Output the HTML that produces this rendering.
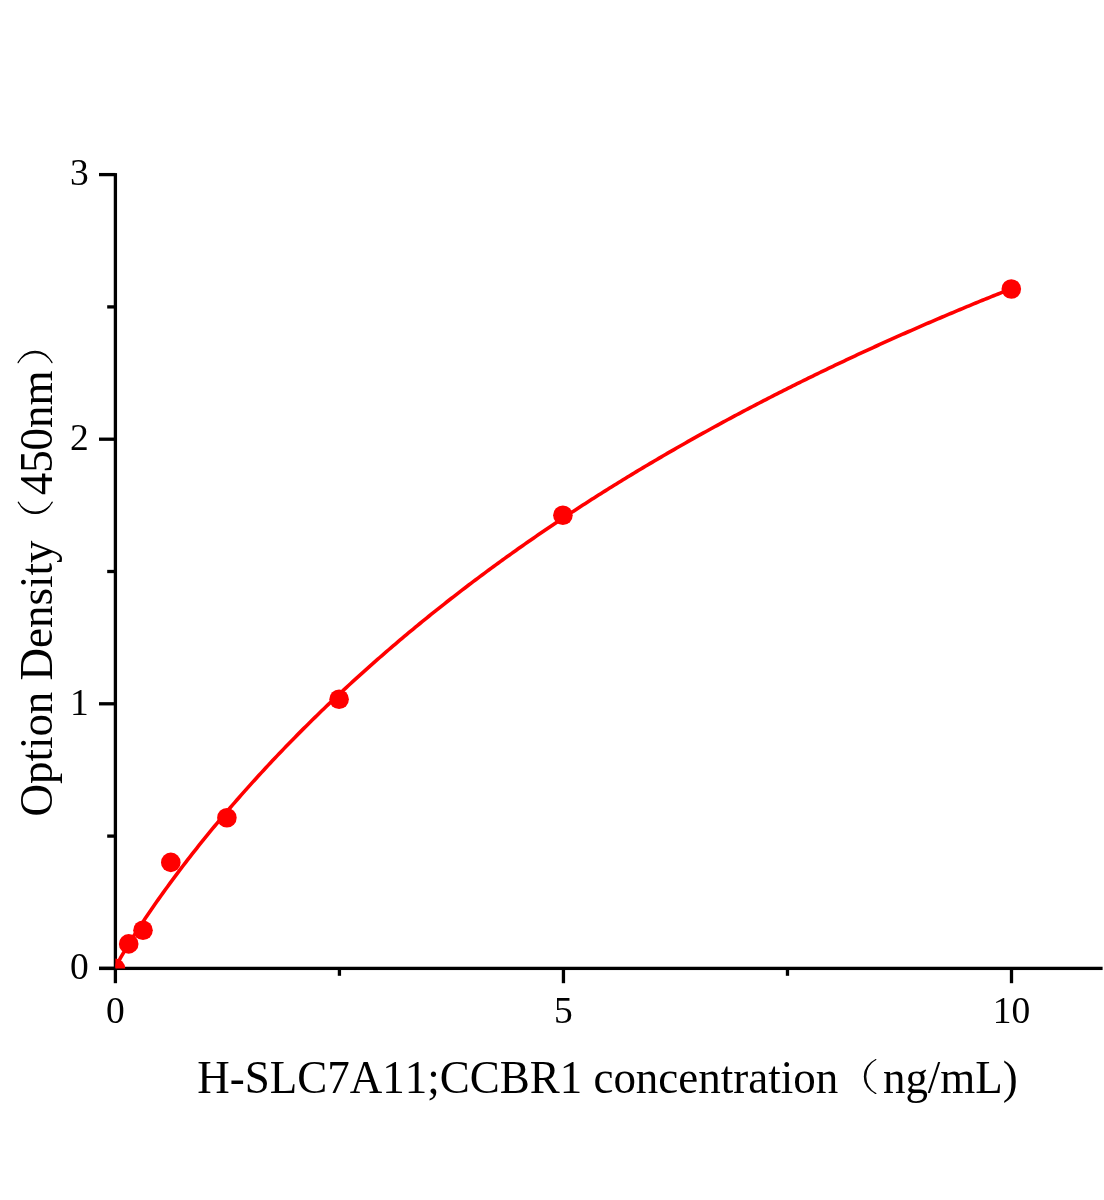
<!DOCTYPE html><html><head><meta charset="utf-8"><style>html,body{margin:0;padding:0;background:#fff;overflow:hidden}svg{display:block;will-change:transform}</style></head><body><svg width="1104" height="1200" viewBox="0 0 1104 1200">
<rect width="1104" height="1200" fill="#fff"/>
<defs><clipPath id="pa"><rect x="115.4" y="0" width="988.6" height="968.4"/></clipPath></defs>
<g fill="#000">
<rect x="113.75" y="173.1" width="3.3" height="810.10"/>
<rect x="99" y="966.75" width="1003.60" height="3.3"/>
<rect x="99" y="966.75" width="16.40" height="3.3"/>
<rect x="99" y="702.15" width="16.40" height="3.3"/>
<rect x="99" y="437.55" width="16.40" height="3.3"/>
<rect x="99" y="172.95" width="16.40" height="3.3"/>
<rect x="107.2" y="834.45" width="8.20" height="3.3"/>
<rect x="107.2" y="569.85" width="8.20" height="3.3"/>
<rect x="107.2" y="305.25" width="8.20" height="3.3"/>
<rect x="561.80" y="968.4" width="3.3" height="14.80"/>
<rect x="1009.85" y="968.4" width="3.3" height="14.80"/>
<rect x="337.78" y="968.4" width="3.3" height="7.40"/>
<rect x="785.83" y="968.4" width="3.3" height="7.40"/>
</g>
<g clip-path="url(#pa)">
<path d="M115.40,967.75 L116.30,965.80 L117.19,964.04 L118.09,962.35 L118.98,960.70 L119.88,959.08 L120.78,957.48 L123.01,953.60 L125.24,949.82 L127.47,946.11 L129.71,942.47 L131.94,938.89 L134.17,935.36 L136.40,931.87 L138.64,928.42 L140.87,925.01 L143.10,921.64 L145.33,918.30 L147.57,914.99 L149.80,911.72 L152.03,908.47 L154.26,905.25 L156.49,902.06 L158.73,898.89 L160.96,895.75 L163.19,892.63 L165.42,889.53 L167.66,886.46 L169.89,883.40 L172.12,880.37 L174.35,877.36 L176.59,874.37 L178.82,871.40 L181.05,868.45 L183.28,865.52 L185.52,862.61 L187.75,859.71 L189.98,856.83 L192.21,853.97 L194.45,851.13 L196.68,848.30 L198.91,845.49 L201.14,842.70 L203.38,839.92 L205.61,837.16 L207.84,834.41 L210.07,831.68 L212.30,828.97 L214.54,826.26 L216.77,823.58 L219.00,820.90 L221.23,818.24 L223.47,815.60 L225.70,812.97 L227.93,810.35 L230.16,807.75 L232.40,805.15 L234.63,802.58 L236.86,800.01 L239.09,797.46 L241.33,794.92 L243.56,792.39 L245.79,789.87 L248.02,787.37 L250.26,784.88 L252.49,782.40 L254.72,779.93 L256.95,777.48 L259.18,775.03 L261.42,772.60 L263.65,770.18 L265.88,767.77 L268.11,765.37 L270.35,762.98 L272.58,760.60 L274.81,758.23 L277.04,755.88 L279.28,753.53 L281.51,751.20 L283.74,748.87 L285.97,746.56 L288.21,744.25 L290.44,741.96 L292.67,739.67 L294.90,737.40 L297.14,735.13 L299.37,732.87 L301.60,730.63 L303.83,728.39 L306.06,726.16 L308.30,723.95 L310.53,721.74 L312.76,719.54 L314.99,717.35 L317.23,715.17 L319.46,712.99 L321.69,710.83 L323.92,708.68 L326.16,706.53 L328.39,704.39 L330.62,702.27 L332.85,700.15 L335.09,698.03 L337.32,695.93 L339.55,693.84 L341.78,691.75 L344.02,689.67 L346.25,687.60 L348.48,685.54 L350.71,683.49 L352.95,681.44 L355.18,679.40 L357.41,677.37 L359.64,675.35 L361.87,673.33 L364.11,671.33 L366.34,669.33 L368.57,667.34 L370.80,665.35 L373.04,663.38 L375.27,661.41 L377.50,659.45 L379.73,657.49 L381.97,655.54 L384.20,653.60 L386.43,651.67 L388.66,649.75 L390.90,647.83 L393.13,645.92 L395.36,644.01 L397.59,642.11 L399.83,640.22 L402.06,638.34 L404.29,636.46 L406.52,634.59 L408.75,632.73 L410.99,630.87 L413.22,629.02 L415.45,627.18 L417.68,625.34 L419.92,623.51 L422.15,621.68 L424.38,619.87 L426.61,618.06 L428.85,616.25 L431.08,614.45 L433.31,612.66 L435.54,610.87 L437.78,609.09 L440.01,607.32 L442.24,605.55 L444.47,603.79 L446.71,602.03 L448.94,600.28 L451.17,598.54 L453.40,596.80 L455.64,595.07 L457.87,593.34 L460.10,591.62 L462.33,589.91 L464.56,588.20 L466.80,586.50 L469.03,584.80 L471.26,583.11 L473.49,581.42 L475.73,579.74 L477.96,578.07 L480.19,576.40 L482.42,574.73 L484.66,573.08 L486.89,571.42 L489.12,569.78 L491.35,568.13 L493.59,566.50 L495.82,564.86 L498.05,563.24 L500.28,561.62 L502.52,560.00 L504.75,558.39 L506.98,556.79 L509.21,555.19 L511.44,553.59 L513.68,552.00 L515.91,550.42 L518.14,548.84 L520.37,547.26 L522.61,545.69 L524.84,544.13 L527.07,542.57 L529.30,541.01 L531.54,539.46 L533.77,537.91 L536.00,536.37 L538.23,534.84 L540.47,533.31 L542.70,531.78 L544.93,530.26 L547.16,528.74 L549.40,527.23 L551.63,525.72 L553.86,524.22 L556.09,522.72 L558.32,521.23 L560.56,519.74 L562.79,518.25 L565.02,516.77 L567.25,515.30 L569.49,513.83 L571.72,512.36 L573.95,510.90 L576.18,509.44 L578.42,507.98 L580.65,506.54 L582.88,505.09 L585.11,503.65 L587.35,502.21 L589.58,500.78 L591.81,499.35 L594.04,497.93 L596.28,496.51 L598.51,495.09 L600.74,493.68 L602.97,492.28 L605.21,490.87 L607.44,489.47 L609.67,488.08 L611.90,486.69 L614.13,485.30 L616.37,483.92 L618.60,482.54 L620.83,481.17 L623.06,479.79 L625.30,478.43 L627.53,477.06 L629.76,475.71 L631.99,474.35 L634.23,473.00 L636.46,471.65 L638.69,470.31 L640.92,468.97 L643.16,467.63 L645.39,466.30 L647.62,464.97 L649.85,463.65 L652.09,462.33 L654.32,461.01 L656.55,459.70 L658.78,458.39 L661.01,457.08 L663.25,455.78 L665.48,454.48 L667.71,453.18 L669.94,451.89 L672.18,450.60 L674.41,449.32 L676.64,448.04 L678.87,446.76 L681.11,445.49 L683.34,444.22 L685.57,442.95 L687.80,441.68 L690.04,440.42 L692.27,439.17 L694.50,437.91 L696.73,436.66 L698.97,435.42 L701.20,434.18 L703.43,432.94 L705.66,431.70 L707.90,430.47 L710.13,429.24 L712.36,428.01 L714.59,426.79 L716.82,425.57 L719.06,424.35 L721.29,423.14 L723.52,421.93 L725.75,420.72 L727.99,419.52 L730.22,418.31 L732.45,417.12 L734.68,415.92 L736.92,414.73 L739.15,413.54 L741.38,412.36 L743.61,411.18 L745.85,410.00 L748.08,408.82 L750.31,407.65 L752.54,406.48 L754.78,405.31 L757.01,404.15 L759.24,402.99 L761.47,401.83 L763.70,400.68 L765.94,399.53 L768.17,398.38 L770.40,397.23 L772.63,396.09 L774.87,394.95 L777.10,393.81 L779.33,392.68 L781.56,391.55 L783.80,390.42 L786.03,389.30 L788.26,388.17 L790.49,387.05 L792.73,385.94 L794.96,384.82 L797.19,383.71 L799.42,382.60 L801.66,381.50 L803.89,380.40 L806.12,379.30 L808.35,378.20 L810.58,377.11 L812.82,376.01 L815.05,374.92 L817.28,373.84 L819.51,372.75 L821.75,371.67 L823.98,370.60 L826.21,369.52 L828.44,368.45 L830.68,367.38 L832.91,366.31 L835.14,365.24 L837.37,364.18 L839.61,363.12 L841.84,362.07 L844.07,361.01 L846.30,359.96 L848.54,358.91 L850.77,357.86 L853.00,356.82 L855.23,355.78 L857.47,354.74 L859.70,353.70 L861.93,352.67 L864.16,351.63 L866.39,350.60 L868.63,349.58 L870.86,348.55 L873.09,347.53 L875.32,346.51 L877.56,345.50 L879.79,344.48 L882.02,343.47 L884.25,342.46 L886.49,341.45 L888.72,340.45 L890.95,339.44 L893.18,338.44 L895.42,337.45 L897.65,336.45 L899.88,335.46 L902.11,334.47 L904.35,333.48 L906.58,332.49 L908.81,331.51 L911.04,330.53 L913.27,329.55 L915.51,328.57 L917.74,327.60 L919.97,326.62 L922.20,325.65 L924.44,324.69 L926.67,323.72 L928.90,322.76 L931.13,321.79 L933.37,320.84 L935.60,319.88 L937.83,318.92 L940.06,317.97 L942.30,317.02 L944.53,316.07 L946.76,315.13 L948.99,314.18 L951.23,313.24 L953.46,312.30 L955.69,311.37 L957.92,310.43 L960.16,309.50 L962.39,308.57 L964.62,307.64 L966.85,306.71 L969.08,305.79 L971.32,304.86 L973.55,303.94 L975.78,303.03 L978.01,302.11 L980.25,301.20 L982.48,300.28 L984.71,299.37 L986.94,298.47 L989.18,297.56 L991.41,296.66 L993.64,295.75 L995.87,294.85 L998.11,293.96 L1000.34,293.06 L1002.57,292.17 L1004.80,291.27 L1007.04,290.38 L1009.27,289.49 L1011.50,288.61" fill="none" stroke="#f00" stroke-width="3.6" stroke-linejoin="round"/>
<circle cx="115.4" cy="968.4" r="9.8" fill="#f00"/>
<circle cx="128.7" cy="943.9" r="9.8" fill="#f00"/>
<circle cx="143" cy="930.3" r="9.8" fill="#f00"/>
<circle cx="170.8" cy="862.4" r="9.8" fill="#f00"/>
<circle cx="226.9" cy="817.7" r="9.8" fill="#f00"/>
<circle cx="339.1" cy="699.2" r="9.8" fill="#f00"/>
<circle cx="562.9" cy="515.2" r="9.8" fill="#f00"/>
<circle cx="1011.3" cy="289" r="9.8" fill="#f00"/>
</g>
<text transform="translate(88.8,979.20) scale(1,1.03)" font-size="37.5" text-anchor="end" font-family="Liberation Serif" fill="#000" style="font-kerning:none">0</text>
<text transform="translate(88.8,714.60) scale(1,1.03)" font-size="37.5" text-anchor="end" font-family="Liberation Serif" fill="#000" style="font-kerning:none">1</text>
<text transform="translate(88.8,450.00) scale(1,1.03)" font-size="37.5" text-anchor="end" font-family="Liberation Serif" fill="#000" style="font-kerning:none">2</text>
<text transform="translate(88.8,185.40) scale(1,1.03)" font-size="37.5" text-anchor="end" font-family="Liberation Serif" fill="#000" style="font-kerning:none">3</text>
<text transform="translate(115.40,1022.9) scale(1,1.03)" font-size="37.5" text-anchor="middle" font-family="Liberation Serif" fill="#000" style="font-kerning:none">0</text>
<text transform="translate(563.45,1022.9) scale(1,1.03)" font-size="37.5" text-anchor="middle" font-family="Liberation Serif" fill="#000" style="font-kerning:none">5</text>
<text transform="translate(1011.50,1022.9) scale(1,1.03)" font-size="37.5" text-anchor="middle" font-family="Liberation Serif" fill="#000" style="font-kerning:none">10</text>
<g transform="translate(197.3,1092.9) scale(1,1.03)">
<text x="0" y="0" font-size="45" font-family="Liberation Serif" fill="#000" style="font-kerning:none">H-SLC7A11;CCBR1 concentration</text>
<text x="685.60" y="0" font-size="45" font-family="Liberation Serif" fill="#000" style="font-kerning:none">ng/mL)</text>
</g>
<path d="M875.90,1059.60 C860.50,1067.60 860.50,1085.50 875.90,1093.50 L875.50,1093.50 C862.50,1085.50 862.50,1067.60 875.50,1059.60 Z" fill="#000" stroke="#000" stroke-width="1.1" stroke-linejoin="round"/>
<g transform="translate(51.7,816.6) rotate(-90)">
<text x="0" y="0" font-size="45" transform="scale(1,1.035)" font-family="Liberation Serif" fill="#000" style="font-kerning:none">Option Density</text>
<path d="M314.60,-33.40 C299.20,-25.40 299.20,-7.50 314.60,0.50 L314.20,0.50 C301.20,-7.50 301.20,-25.40 314.20,-33.40 Z" fill="#000" stroke="#000" stroke-width="1.1" stroke-linejoin="round"/>
<text x="321.24" y="0" font-size="45" transform="scale(1,1.035)" font-family="Liberation Serif" fill="#000" style="font-kerning:none">450nm</text>
<path d="M453.84,-33.60 C469.24,-25.60 469.24,-7.70 453.84,0.30 L454.24,0.30 C467.24,-7.70 467.24,-25.60 454.24,-33.60 Z" fill="#000" stroke="#000" stroke-width="1.1" stroke-linejoin="round"/>
</g>
</svg></body></html>
